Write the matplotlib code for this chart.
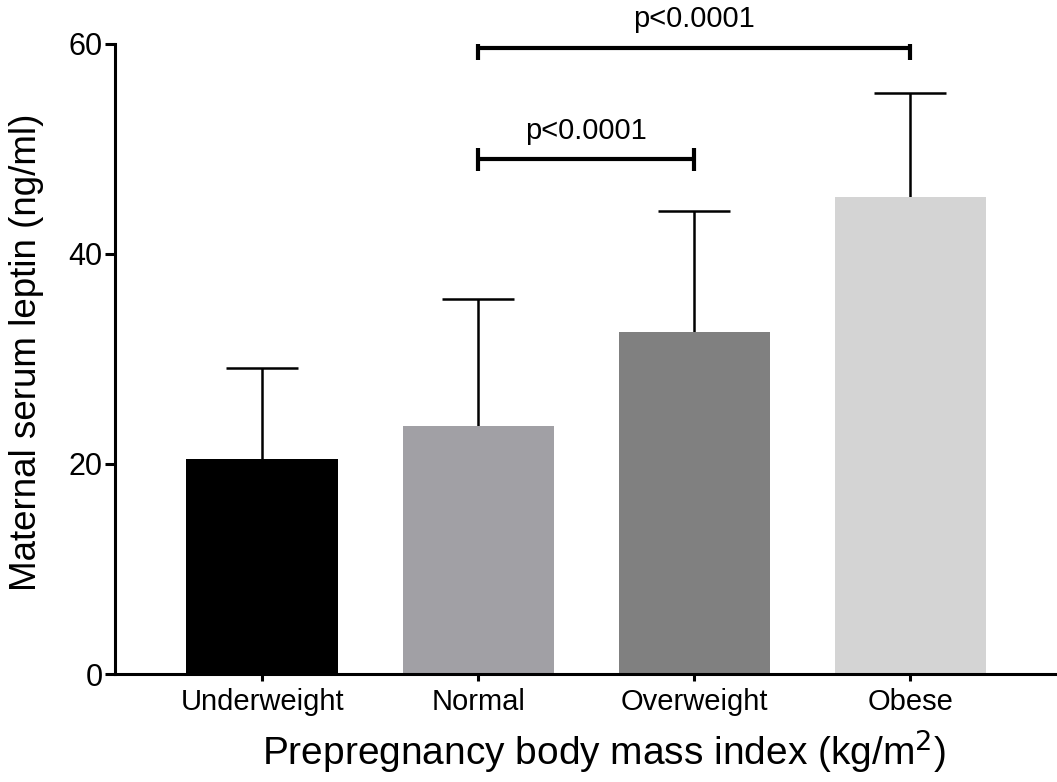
import matplotlib
matplotlib.use("Agg")
import matplotlib.pyplot as plt

plt.rcParams["font.family"] = ["Liberation Sans", "DejaVu Sans"]

groups = ["Underweight", "Normal", "Overweight", "Obese"]
leptin_mean = [20.5, 23.6, 32.6, 45.4]
leptin_sd = [8.6, 12.1, 11.5, 9.9]
bar_colors = ["#000000", "#a1a0a5", "#808080", "#d4d4d4"]

# significance brackets: (from group, to group, height, label)
brackets = [
    (1, 2, 49.0, "p<0.0001"),
    (1, 3, 59.6, "p<0.0001"),
]

fig = plt.figure(figsize=(10.57, 7.82), dpi=100)
ax = fig.add_axes([0.109, 0.138, 0.891, 0.806])

x = list(range(len(groups)))
ax.bar(x, leptin_mean, width=0.7, color=bar_colors, zorder=2)
_, caps, _ = ax.errorbar(x, leptin_mean, yerr=[[0] * len(groups), leptin_sd], fmt="none",
                         ecolor="black", elinewidth=1.8, capsize=26, capthick=1.8, zorder=1)
caps[0].set_visible(False)  # only the upper whisker is shown

for i, j, h, label in brackets:
    ax.plot([x[i], x[j]], [h, h], color="black", lw=3, solid_capstyle="butt")
    ax.plot([x[i], x[i]], [h - 1.1, h + 1.1], color="black", lw=3, solid_capstyle="butt")
    ax.plot([x[j], x[j]], [h - 1.1, h + 1.1], color="black", lw=3, solid_capstyle="butt")
    ax.text((x[i] + x[j]) / 2, h + 1.4, label, ha="center", va="bottom", fontsize=21)

ax.set_xlim(-0.68, 3.68)
ax.set_ylim(0, 60)
ax.set_yticks([0, 20, 40, 60])
ax.set_xticks(x)
ax.set_xticklabels(groups)
ax.tick_params(axis="y", labelsize=22, width=2.2, length=7, pad=2)
ax.tick_params(axis="x", labelsize=21, width=2.2, length=5, pad=5)

for side in ["top", "right"]:
    ax.spines[side].set_visible(False)
for side in ["left", "bottom"]:
    ax.spines[side].set_linewidth(2.2)

ax.set_ylabel("Maternal serum leptin (ng/ml)", fontsize=26.5, va="center")
ax.yaxis.set_label_coords(-0.094, 0.511)
ax.set_xlabel("Prepregnancy body mass index (kg/m$^2$)", fontsize=28)
ax.xaxis.set_label_coords(0.519, -0.122)
ax.xaxis.label.set_va("center")

fig.savefig("out.png", dpi=100)
